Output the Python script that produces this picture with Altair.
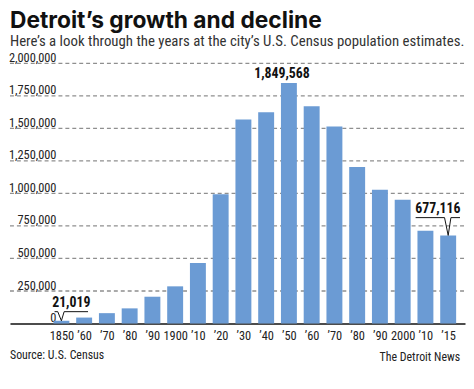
import json
import altair as alt
import pandas as pd

# ---- data ----
year_labels = ["1850", "’60", "’70", "’80", "’90", "1900", "’10", "’20", "’30", "’40",
               "’50", "’60", "’70", "’80", "’90", "2000", "’10", "’15"]
population = [21019, 45619, 79577, 116340, 205876, 285704, 465766, 993678, 1568662,
              1623452, 1849568, 1670144, 1514063, 1203339, 1027974, 951270, 713777, 677116]
y_ticks = [0, 250000, 500000, 750000, 1000000, 1250000, 1500000, 1750000, 2000000]

# annotation callouts: (bar index, label text, leader-line level, line start, line end)
callout_index = [0, 17]
callout_text = ["21,019", "677,116"]
callout_level = [91000, 814000]
callout_from = [-0.3, 15.57]
callout_to = [1.17, 17.52]
peak_index = 10
peak_text = "1,849,568"

FONT = "Roboto Condensed"
BLUE = "#6b9bd4"

df = pd.DataFrame({"i": list(range(len(population))), "label": year_labels, "pop": population})
df["x0"] = df["i"] - 0.35
df["x1"] = df["i"] + 0.35
df["base"] = 0

grid_df = pd.DataFrame({"pop": y_ticks[1:]})

# leader lines built from the callout definitions and the bar values
rows = []
for k, idx in enumerate(callout_index):
    lvl = callout_level[k]
    pts = [(callout_from[k], lvl), (idx - 0.16, lvl), (idx, population[idx]),
           (idx + 0.12, lvl), (callout_to[k], lvl)]
    for o, (px, py) in enumerate(pts):
        rows.append({"g": k, "o": o, "x0": px, "pop": py})
lines_df = pd.DataFrame(rows)

texts_df = pd.DataFrame({
    "x0": [(callout_from[k] + callout_to[k]) / 2 for k in range(len(callout_index))],
    "pop": callout_level,
    "t": callout_text,
})
peak_df = pd.DataFrame({"x0": [peak_index], "pop": [population[peak_index]], "t": [peak_text]})

x_scale = alt.Scale(domain=[-2.26, 17.74], nice=False, zero=False)
y_scale = alt.Scale(domain=[0, 2000000], nice=False)

label_expr = json.dumps(year_labels) + "[datum.value]"

x_axis = alt.Axis(values=list(range(len(year_labels))), labelExpr=label_expr,
                  grid=False, ticks=False, tickSize=0, domain=True,
                  domainColor="#111", domainWidth=1.5, labelPadding=6,
                  labelFont=FONT, labelFontSize=12.5, labelColor="#222",
                  labelFlush=False, labelOverlap=False, title=None)
y_axis = alt.Axis(values=y_ticks, labelExpr="format(datum.value, ',')",
                  labelAlign="right", labelPadding=-46.5,
                  tickSize=0, ticks=False, domain=False, grid=False,
                  labelBaseline="alphabetic", labelOffset=-2,
                  labelFont=FONT, labelFontSize=12.5, labelColor="#222", title=None)

X = alt.X("x0:Q", scale=x_scale, axis=x_axis)
Y = alt.Y("pop:Q", scale=y_scale, axis=y_axis)

grid = alt.Chart(grid_df).mark_rule(color="#8f8f8f", strokeWidth=1.3, strokeDash=[4, 3],
                                    opacity=1).encode(
    x=alt.value(0), x2=alt.value(460), y=Y,
)

bars = alt.Chart(df).mark_bar(color=BLUE).encode(
    x=X, x2="x1:Q", y=Y, y2="base:Q",
)

leaders = alt.Chart(lines_df).mark_line(color="#111", strokeWidth=1).encode(
    x=X, y=Y, detail="g:N", order="o:Q",
)

callouts = alt.Chart(texts_df).mark_text(font=FONT, fontSize=14, fontWeight="bold",
                                         color="#111", baseline="alphabetic", dy=-5).encode(
    x=X, y=Y, text="t:N",
)

peak = alt.Chart(peak_df).mark_text(font=FONT, fontSize=14, fontWeight="bold",
                                    color="#111", baseline="alphabetic", dx=-7, dy=-5).encode(
    x=X, y=Y, text="t:N",
)

src = alt.Chart(pd.DataFrame({"t": ["Source: U.S. Census"]})).mark_text(
    font=FONT, fontSize=12, color="#222", align="left", baseline="alphabetic").encode(
    text="t:N", x=alt.value(0), y=alt.value(299))

credit = alt.Chart(pd.DataFrame({"t": ["The Detroit News"]})).mark_text(
    font=FONT, fontSize=12, color="#222", align="right", baseline="alphabetic").encode(
    text="t:N", x=alt.value(455), y=alt.value(301))

chart = alt.layer(grid, bars, leaders, callouts, peak, src, credit).properties(
    width=460, height=263,
    padding={"left": 0, "top": 0, "right": 0, "bottom": 0},
    title=alt.TitleParams(
        text="Detroit’s growth and decline",
        subtitle="Here’s a look through the years at the city’s U.S. Census population estimates.",
        anchor="start", frame="group", font="Inter", fontSize=23, fontWeight="bold",
        color="#111", subtitleFont=FONT, subtitleFontSize=15, subtitleColor="#333",
        subtitlePadding=1, offset=3,
    ),
).configure_view(stroke=None)

chart.save("out.html", embed_options={"renderer": "svg", "actions": False})
